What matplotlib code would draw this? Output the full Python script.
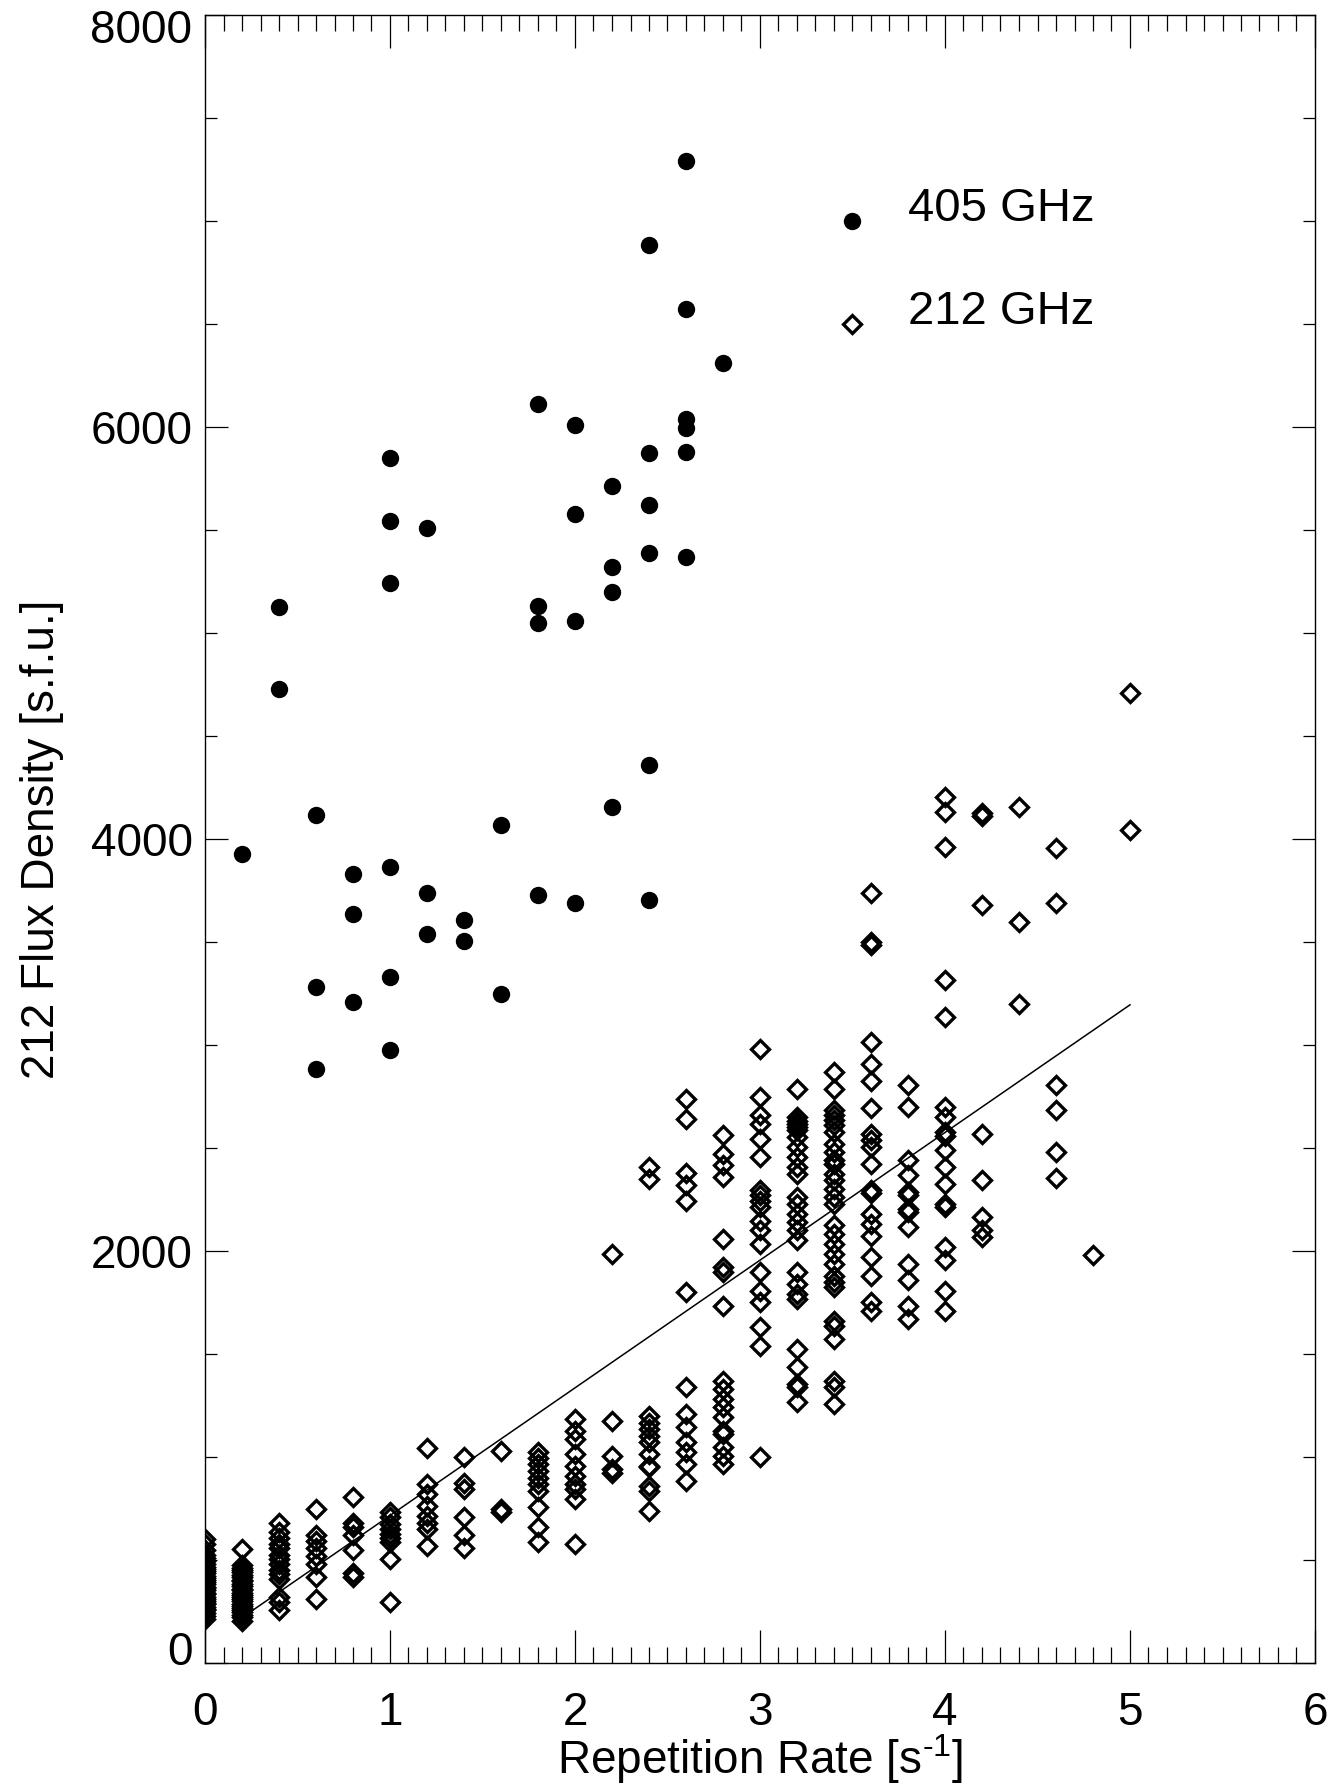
import matplotlib
matplotlib.use("Agg")
import matplotlib.pyplot as plt
from matplotlib.ticker import MultipleLocator
from matplotlib.transforms import ScaledTranslation

plt.rcParams['font.family'] = ['Liberation Sans', 'DejaVu Sans']
plt.rcParams['mathtext.fontset'] = 'custom'
plt.rcParams['mathtext.rm'] = 'Liberation Sans'
plt.rcParams['mathtext.it'] = 'Liberation Sans:italic'

# 405 GHz peaks (filled circles)
rate_405 = [0.2, 0.4, 0.4, 0.6, 0.6, 0.6, 0.8, 0.8, 0.8,
            1.0, 1.0, 1.0, 1.0, 1.0, 1.0, 1.2, 1.2, 1.2, 1.4, 1.4, 1.6, 1.6,
            1.8, 1.8, 1.8, 1.8, 2.0, 2.0, 2.0, 2.0, 2.2, 2.2, 2.2, 2.2,
            2.4, 2.4, 2.4, 2.4, 2.4, 2.4, 2.6, 2.6, 2.6, 2.6, 2.6, 2.6, 2.8]
flux_405 = [3925, 5125, 4730, 4115, 3280, 2885, 3830, 3635, 3210,
            5850, 5545, 5245, 3865, 3330, 2975, 5510, 3740, 3540, 3605, 3505, 4070, 3250,
            6110, 5130, 5050, 3730, 6010, 5580, 5060, 3690, 5715, 5320, 5200, 4155,
            6885, 5875, 5620, 5390, 4360, 3705, 7290, 6575, 6040, 5995, 5880, 5370, 6310]

# 212 GHz peaks (open diamonds), one list per repetition rate
f212_r00 = [602, 578, 548, 523, 509, 494, 481, 466, 455, 447, 436, 421, 414, 402, 391,
            383, 371, 362, 355, 342, 333, 321, 312, 301, 293, 284, 271, 262, 255, 243, 228, 215]
f212_r02 = [552, 478, 462, 451, 440, 428, 417, 405, 396, 384, 372, 361, 352, 340, 331,
            322, 311, 299, 288, 279, 268, 257, 246, 233, 221, 203]
f212_r04 = [682, 637, 605, 578, 556, 524, 505, 483, 451, 430, 410, 321, 297, 256]
f212_r06 = [750, 621, 590, 556, 520, 483, 418, 313]
f212_r08 = [804, 682, 660, 621, 549, 435, 418]
f212_r10 = [731, 707, 675, 650, 625, 605, 585, 504, 297]
f212_r12 = [1046, 868, 820, 763, 715, 682, 650, 569]
f212_r14 = [1001, 876, 844, 707, 621, 556]
f212_r16 = [1030, 750, 731]
f212_r18 = [1022, 997, 965, 932, 900, 868, 836, 755, 660, 585]
f212_r20 = [1183, 1127, 1087, 1014, 957, 909, 868, 844, 795, 577]
f212_r22 = [1986, 1176, 1006, 940, 920]
f212_r24 = [2407, 2351, 1200, 1167, 1136, 1103, 1071, 1014, 958, 950, 860, 836, 740]
f212_r26 = [2736, 2639, 2380, 2318, 2245, 1800, 1338, 1209, 1144, 1071, 1022, 966, 885]
f212_r28 = [2561, 2472, 2416, 2359, 2059, 1921, 1896, 1735, 1371, 1330, 1282, 1241,
            1192, 1128, 1110, 1047, 1006, 966]
f212_r30 = [2983, 2748, 2659, 2618, 2545, 2456, 2294, 2270, 2245, 2213, 2148, 2100,
            2035, 1897, 1808, 1751, 1630, 1541, 998]
f212_r32 = [2788, 2650, 2630, 2618, 2600, 2586, 2553, 2505, 2456, 2407, 2375, 2262,
            2229, 2181, 2140, 2100, 2051, 1897, 1840, 1792, 1768, 1525, 1435, 1354, 1340, 1265]
f212_r34 = [2869, 2788, 2683, 2660, 2634, 2610, 2578, 2521, 2480, 2440, 2420, 2375,
            2343, 2302, 2262, 2229, 2124, 2084, 2035, 1986, 1938, 1881, 1848, 1824,
            1662, 1638, 1573, 1371, 1338, 1257]
f212_r36 = [3736, 3501, 3485, 3015, 2910, 2825, 2695, 2570, 2540, 2505, 2424, 2294,
            2280, 2181, 2132, 2075, 1970, 1881, 1751, 1711]
f212_r38 = [2804, 2699, 2440, 2367, 2286, 2270, 2205, 2190, 2116, 1938, 1857, 1735, 1670]
f212_r40 = [4206, 4130, 3963, 3315, 3136, 2699, 2650, 2578, 2560, 2488, 2407, 2326,
            2229, 2215, 2019, 1954, 1808, 1711]
f212_r42 = [4125, 4110, 3679, 2570, 2343, 2164, 2100, 2067]
f212_r44 = [4157, 3598, 3198]
f212_r46 = [3958, 3687, 2804, 2686, 2482, 2355]
f212_r48 = [1983]
f212_r50 = [4711, 4044]

columns_212 = [(0.0, f212_r00), (0.2, f212_r02), (0.4, f212_r04), (0.6, f212_r06),
               (0.8, f212_r08), (1.0, f212_r10), (1.2, f212_r12), (1.4, f212_r14),
               (1.6, f212_r16), (1.8, f212_r18), (2.0, f212_r20), (2.2, f212_r22),
               (2.4, f212_r24), (2.6, f212_r26), (2.8, f212_r28), (3.0, f212_r30),
               (3.2, f212_r32), (3.4, f212_r34), (3.6, f212_r36), (3.8, f212_r38),
               (4.0, f212_r40), (4.2, f212_r42), (4.4, f212_r44), (4.6, f212_r46),
               (4.8, f212_r48), (5.0, f212_r50)]

# straight-line fit through the 212 GHz points
fit_rate = [0.2, 5.0]
fit_flux = [220, 3195]

rate_212 = []
flux_212 = []
for r, vals in columns_212:
    rate_212 += [r] * len(vals)
    flux_212 += vals

fig = plt.figure(figsize=(13.4, 17.89), dpi=100)
ax = fig.add_axes([205 / 1340, 126 / 1789, 1110 / 1340, 1648 / 1789])

ax.plot(rate_405, flux_405, linestyle='none', marker='o', ms=12.5,
        mfc='black', mec='black', mew=0)
ax.plot(rate_212, flux_212, linestyle='none', marker='D', ms=9.5,
        mfc='none', mec='black', mew=2.4)
ax.plot(fit_rate, fit_flux, color='black', lw=1.1)

# legend drawn by hand, IDL style
ax.plot([3.5], [7000], linestyle='none', marker='o', ms=12.5, mfc='black', mew=0)
ax.plot([3.5], [6500], linestyle='none', marker='D', ms=9.5, mfc='none',
        mec='black', mew=2.4)
ax.text(3.8, 7000, '405 GHz', fontsize=34, va='baseline')
ax.text(3.8, 6500, '212 GHz', fontsize=34, va='baseline')

ax.set_xlim(0, 6)
ax.set_ylim(0, 8000)
ax.xaxis.set_major_locator(MultipleLocator(1))
ax.xaxis.set_minor_locator(MultipleLocator(0.1))
ax.set_yticks([0, 2000, 4000, 6000, 8000])
ax.yaxis.set_minor_locator(MultipleLocator(500))

ax.tick_params(axis='both', which='both', direction='in', top=True, right=True,
               width=0.9, colors='black')
ax.tick_params(axis='x', which='major', length=24, labelsize=33, pad=20)
ax.tick_params(axis='x', which='minor', length=11.5)
ax.tick_params(axis='y', which='major', length=16.5, labelsize=33, pad=9)
ax.tick_params(axis='y', which='minor', length=8.4)
for s in ax.spines.values():
    s.set_linewidth(1.0)

# end labels of the y axis sit a little inside the frame
yt = ax.yaxis.get_major_ticks()
yt[0].label1.set_transform(yt[0].label1.get_transform()
                           + ScaledTranslation(0, 0.15, fig.dpi_scale_trans))
yt[-1].label1.set_transform(yt[-1].label1.get_transform()
                            + ScaledTranslation(0, -0.11, fig.dpi_scale_trans))

ax.set_xlabel(r'Repetition Rate [s$^{\text{-1}}$]', fontsize=33, va='center')
ax.xaxis.set_label_coords(0.5, -0.058)
ax.set_ylabel('212 Flux Density [s.f.u.]', fontsize=33, va='center')
ax.yaxis.set_label_coords(-0.147, 0.5)

fig.savefig('out.png', dpi=100)
